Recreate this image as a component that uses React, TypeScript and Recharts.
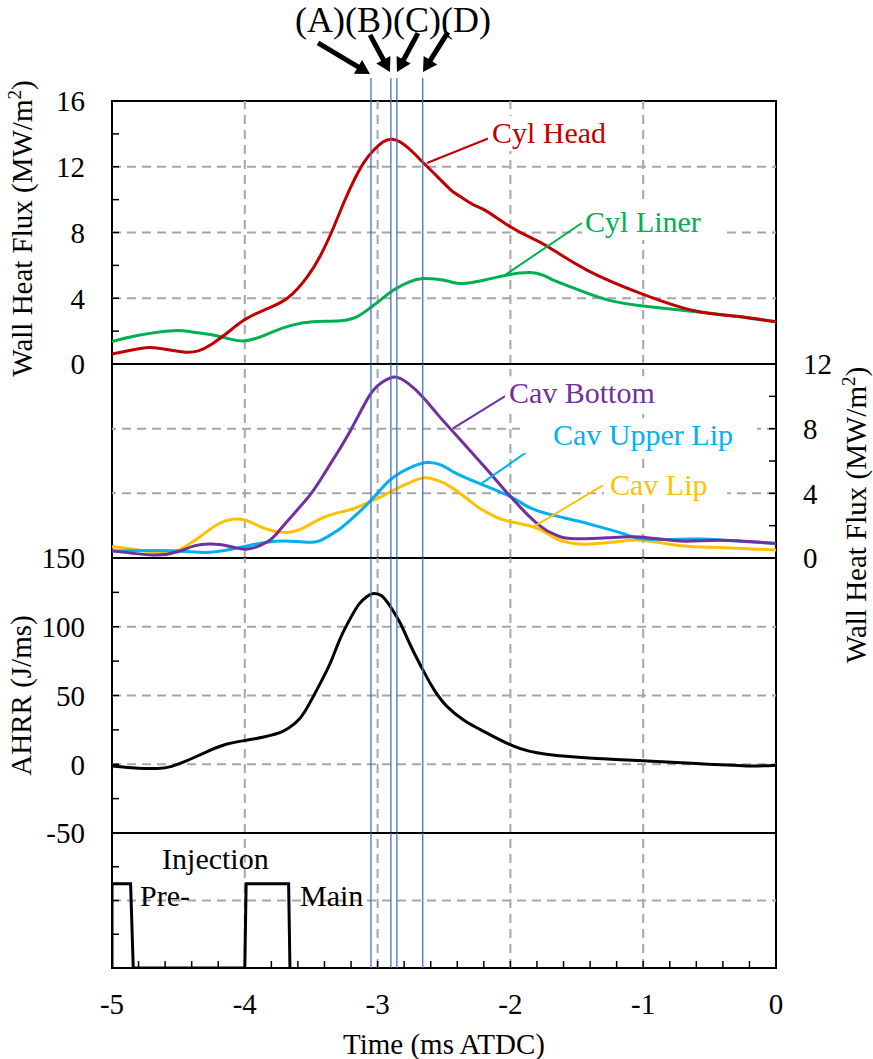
import React from 'react';
import { LineChart, Line, XAxis, YAxis, ReferenceLine, ReferenceArea, ReferenceDot, Label } from 'recharts';

const W = 873;
const H = 1059;
const FONT = 'Liberation Serif, Times New Roman, serif';

// ---------- data ----------
const cylHeadTime = [-5.0, -4.85, -4.72, -4.6, -4.45, -4.35, -4.25, -4.1, -4.0, -3.85, -3.68, -3.53, -3.43, -3.34, -3.25, -3.17, -3.1, -3.03, -2.96, -2.89, -2.81, -2.73, -2.65, -2.55, -2.45, -2.38, -2.28, -2.18, -2.0, -1.85, -1.72, -1.42, -1.02, -0.62, -0.3, 0];
const cylHeadFlux = [0.6, 0.85, 1.0, 0.9, 0.72, 0.8, 1.2, 2.1, 2.7, 3.3, 4.0, 5.3, 6.6, 8.15, 9.9, 11.3, 12.3, 13.0, 13.5, 13.67, 13.4, 12.85, 12.2, 11.4, 10.6, 10.2, 9.7, 9.3, 8.35, 7.7, 7.15, 5.7, 4.3, 3.25, 2.9, 2.57];

const cylLinerTime = [-5.0, -4.8, -4.54, -4.4, -4.26, -4.1, -4.01, -3.9, -3.79, -3.65, -3.49, -3.28, -3.15, -3.06, -2.97, -2.88, -2.76, -2.66, -2.55, -2.45, -2.36, -2.2, -2.03, -1.83, -1.7, -1.55, -1.27, -0.97, -0.62, -0.3, 0];
const cylLinerFlux = [1.36, 1.75, 2.03, 1.95, 1.8, 1.5, 1.4, 1.6, 1.96, 2.35, 2.57, 2.63, 2.9, 3.39, 3.95, 4.5, 5.0, 5.2, 5.15, 5.0, 4.9, 5.1, 5.4, 5.55, 5.2, 4.7, 3.9, 3.5, 3.2, 2.9, 2.57];

const cavBottomTime = [-5.0, -4.85, -4.66, -4.5, -4.38, -4.25, -4.1, -3.98, -3.83, -3.74, -3.64, -3.5, -3.38, -3.21, -3.06, -2.96, -2.87, -2.77, -2.66, -2.55, -2.43, -2.18, -2.0, -1.78, -1.65, -1.55, -1.27, -1.02, -0.72, -0.42, 0];
const cavBottomFlux = [0.43, 0.3, 0.18, 0.4, 0.75, 0.86, 0.7, 0.55, 1.0, 1.7, 2.65, 4.0, 5.5, 7.8, 10.06, 10.9, 11.2, 10.8, 9.96, 8.9, 7.8, 5.5, 3.8, 2.0, 1.4, 1.2, 1.25, 1.3, 1.05, 1.1, 0.9];

const cavUpperLipTime = [-5.0, -4.54, -4.26, -4.01, -3.73, -3.49, -3.38, -3.28, -3.17, -3.06, -2.97, -2.88, -2.75, -2.63, -2.52, -2.43, -2.23, -2.0, -1.85, -1.68, -1.5, -1.33, -1.15, -1.02, -0.8, -0.55, -0.3, 0];
const cavUpperLipFlux = [0.43, 0.45, 0.35, 0.7, 1.05, 0.97, 1.3, 1.83, 2.6, 3.48, 4.3, 5.0, 5.6, 5.9, 5.75, 5.33, 4.6, 3.8, 3.1, 2.65, 2.3, 1.93, 1.5, 1.2, 1.15, 1.17, 1.05, 0.9];

const cavLipTime = [-5.0, -4.8, -4.59, -4.45, -4.34, -4.2, -4.09, -4.0, -3.91, -3.8, -3.68, -3.55, -3.38, -3.2, -3.06, -2.97, -2.88, -2.75, -2.64, -2.55, -2.45, -2.3, -2.23, -2.1, -2.0, -1.83, -1.72, -1.63, -1.52, -1.42, -1.2, -1.02, -0.8, -0.62, -0.3, 0];
const cavLipFlux = [0.7, 0.5, 0.29, 0.7, 1.3, 2.1, 2.4, 2.35, 2.04, 1.7, 1.58, 1.9, 2.6, 3.0, 3.48, 3.8, 4.2, 4.7, 4.96, 4.8, 4.4, 3.5, 3.07, 2.5, 2.24, 1.93, 1.5, 1.1, 0.9, 0.85, 1.0, 1.1, 0.85, 0.7, 0.6, 0.5];

const ahrrTime = [-5.0, -4.85, -4.66, -4.55, -4.44, -4.3, -4.14, -3.98, -3.85, -3.71, -3.62, -3.55, -3.43, -3.35, -3.28, -3.2, -3.14, -3.08, -3.03, -2.97, -2.91, -2.83, -2.75, -2.66, -2.58, -2.48, -2.35, -2.23, -1.98, -1.73, -1.35, -0.97, -0.6, -0.22, 0];
const ahrrValue = [-1.2, -2.5, -3.1, -1.5, 2.4, 8.5, 14.5, 17.6, 20, 24.1, 30, 38, 59.2, 75, 91.8, 107, 116.5, 122, 124.2, 122.5, 115.5, 102.7, 86, 68.8, 55, 42.3, 32, 25.4, 13.3, 7.2, 4.1, 2.4, 0.5, -1.2, -0.7];

const injectionTime = [-5.0, -5.0, -4.86, -4.84, -4.0, -3.99, -3.67, -3.66];
const injectionSignal = [0, 2.5, 2.5, 0, 0, 2.5, 2.5, 0];

const markerTimes = [-3.05, -2.9, -2.855, -2.66];
const markerLetters = '(A)(B)(C)(D)';
const xGrid = [-4, -3, -2, -1];
const xTicks = [-5, -4.8, -4.6, -4.4, -4.2, -4, -3.8, -3.6, -3.4, -3.2, -3, -2.8, -2.6, -2.4, -2.2, -2, -1.8, -1.6, -1.4, -1.2, -1, -0.8, -0.6, -0.4, -0.2, 0];
const fluxTicksTop = [0, 2, 4, 6, 8, 10, 12, 14, 16];
const fluxTicksMid = [0, 2, 4, 6, 8, 10, 12];
const ahrrTicks = [-50, -25, 0, 25, 50, 75, 100, 125, 150];
const injTicks = [0, 1, 2, 3, 4];

const COLORS = {
  head: '#C00000',
  liner: '#00B050',
  bottom: '#7030A0',
  upper: '#00B0F0',
  lip: '#FFC000',
  grid: '#A6A6A6',
  marker: '#4472C4',
};

const pts = (ts: number[], vs: number[]) => ts.map((t, i) => ({ t, v: vs[i] }));

// ---------- helpers ----------
const txtStyle: React.CSSProperties = { fontFamily: FONT };

const makeTick = (show: (v: number) => boolean, dy: string) => (props: any) => {
  const { x, y, payload, textAnchor } = props;
  const v = payload.value;
  if (!show(v)) return <g />;
  const label = Math.abs(v) < 1e-9 ? '0' : String(Math.round(v * 100) / 100);
  return (
    <text x={x} y={y} dy={dy} textAnchor={textAnchor} fontFamily={FONT} style={txtStyle} fontSize={29} fill="#000">
      {label}
    </text>
  );
};

const isInt = (v: number) => Math.abs(v - Math.round(v)) < 1e-6;

const Arrow = (props: any) => {
  const { x1, y1, x2, y2 } = props;
  const dx = x2 - x1;
  const dy = y2 - y1;
  const len = Math.hypot(dx, dy) || 1;
  const ux = dx / len;
  const uy = dy / len;
  const hl = 14;
  const hw = 8;
  const bx = x2 - ux * hl;
  const by = y2 - uy * hl;
  return (
    <g>
      <line x1={x1} y1={y1} x2={bx + ux * 2} y2={by + uy * 2} stroke="#000" strokeWidth={5} />
      <polygon points={`${x2},${y2} ${bx - uy * hw},${by + ux * hw} ${bx + uy * hw},${by - ux * hw}`} fill="#000" />
    </g>
  );
};

const textShape = (text: string, color: string, size: number, anchor: string, box?: [number, number]) => (props: any) => {
  const { cx, cy } = props;
  return (
    <g>
      {box ? <rect x={cx + box[0]} y={cy - 27} width={box[1]} height={35} fill="#fff" /> : null}
      <text x={cx} y={cy} fill={color} fontSize={size} fontFamily={FONT} style={txtStyle} textAnchor={anchor}>
        {text}
      </text>
    </g>
  );
};

const fluxTitle = (
  <>
    Wall Heat Flux (MW/m<tspan dy={-11} fontSize={19}>2</tspan>
    <tspan dy={11}>)</tspan>
  </>
);

const titleContent = (content: React.ReactNode, baseX: number, dyCenter: number) => (props: any) => {
  const vb = props.viewBox || {};
  const cy = (vb.y ?? 0) + (vb.height ?? 0) / 2 + dyCenter;
  return (
    <text transform={`translate(${baseX},${cy}) rotate(-90)`} textAnchor="middle" fontFamily={FONT} style={txtStyle} fontSize={29} fill="#000">
      {content}
    </text>
  );
};

const gridLine = { stroke: COLORS.grid, strokeWidth: 2, strokeDasharray: '9 6' };
const tickLineStyle = { stroke: '#000', strokeWidth: 1.5 };
const CURVE = 'natural' as const;

const chartBox: React.CSSProperties = { position: 'absolute', left: 0, top: 0 };

// ---------- component ----------
export default function App() {
  return (
    <div style={{ position: 'absolute', left: 0, top: 0, width: W, height: H, background: '#fff' }}>
      {/* Panel 1: cylinder head / liner */}
      <div style={chartBox}>
        <LineChart width={W} height={H} margin={{ top: 101, bottom: H - 364, left: 52, right: 97 }}>
          <XAxis dataKey="t" type="number" domain={[-5, 0]} allowDataOverflow hide />
          <YAxis
            type="number"
            domain={[0, 16]}
            ticks={fluxTicksTop}
            interval={0}
            allowDataOverflow
            width={60}
            axisLine={false}
            tickSize={-7}
            tickMargin={34}
            tickLine={tickLineStyle}
            tick={makeTick((v) => v % 4 === 0, '0.355em')}
          >
            <Label content={titleContent(fluxTitle, 32, -4)} />
          </YAxis>
          {xGrid.map((x) => (
            <ReferenceLine key={'gx' + x} x={x} {...gridLine} />
          ))}
          {[4, 8, 12].map((y) => (
            <ReferenceLine key={'gy' + y} y={y} {...gridLine} />
          ))}
          <ReferenceDot x={-2.139} y={13.44} r={0} ifOverflow="visible" shape={textShape('Cyl Head', COLORS.head, 30, 'start', [-4, 128])} />
          <ReferenceDot x={-1.438} y={8.03} r={0} ifOverflow="visible" shape={textShape('Cyl Liner', COLORS.liner, 30, 'start', [-3, 143])} />
          <Line data={pts(cylLinerTime, cylLinerFlux)} dataKey="v" type={CURVE} stroke={COLORS.liner} strokeWidth={3} dot={false} isAnimationActive={false} />
          <Line data={pts(cylHeadTime, cylHeadFlux)} dataKey="v" type={CURVE} stroke={COLORS.head} strokeWidth={3} dot={false} isAnimationActive={false} />
          <ReferenceLine segment={[{ x: -2.628, y: 12.23 }, { x: -2.139, y: 13.81 }]} stroke={COLORS.head} strokeWidth={2} ifOverflow="visible" />
          <ReferenceLine segment={[{ x: -2.041, y: 5.41 }, { x: -1.461, y: 8.58 }]} stroke={COLORS.liner} strokeWidth={2} ifOverflow="visible" />
          {markerTimes.map((x) => (
            <ReferenceLine key={'m' + x} segment={[{ x, y: 0 }, { x, y: 17.4 }]} stroke={COLORS.marker} strokeWidth={1.3} ifOverflow="visible" />
          ))}
          <ReferenceLine segment={[{ x: -3.449, y: 19.53 }, { x: -3.057, y: 17.64 }]} ifOverflow="visible" shape={Arrow} />
          <ReferenceLine segment={[{ x: -3.057, y: 20.02 }, { x: -2.907, y: 17.76 }]} ifOverflow="visible" shape={Arrow} />
          <ReferenceLine segment={[{ x: -2.696, y: 20.13 }, { x: -2.854, y: 17.76 }]} ifOverflow="visible" shape={Arrow} />
          <ReferenceLine segment={[{ x: -2.47, y: 20.19 }, { x: -2.658, y: 17.76 }]} ifOverflow="visible" shape={Arrow} />
          <ReferenceDot x={-2.884} y={20.22} r={0} ifOverflow="visible" shape={textShape(markerLetters, '#000', 36, 'middle')} />
          <ReferenceArea x1={-5} x2={0} y1={0} y2={16} fill="none" fillOpacity={0} stroke="#000" strokeWidth={2} ifOverflow="visible" />
        </LineChart>
      </div>

      {/* Panel 2: cavity */}
      <div style={chartBox}>
        <LineChart width={W} height={H} margin={{ top: 364, bottom: H - 558, left: 112, right: 37 }}>
          <XAxis dataKey="t" type="number" domain={[-5, 0]} allowDataOverflow hide />
          <YAxis
            yAxisId="r"
            orientation="right"
            type="number"
            domain={[0, 12]}
            ticks={fluxTicksMid}
            interval={0}
            allowDataOverflow
            width={60}
            axisLine={false}
            tickSize={-7}
            tickMargin={34}
            tickLine={tickLineStyle}
            tick={makeTick((v) => v % 4 === 0, '0.355em')}
          >
            <Label content={titleContent(fluxTitle, 866, 54)} />
          </YAxis>
          {xGrid.map((x) => (
            <ReferenceLine key={'gx' + x} yAxisId="r" x={x} {...gridLine} />
          ))}
          {[4, 8].map((y) => (
            <ReferenceLine key={'gy' + y} yAxisId="r" y={y} {...gridLine} />
          ))}
          <ReferenceDot yAxisId="r" x={-2.011} y={9.57} r={0} ifOverflow="visible" shape={textShape('Cav Bottom', COLORS.bottom, 30, 'start', [-4, 150])} />
          <ReferenceDot yAxisId="r" x={-1.679} y={6.98} r={0} ifOverflow="visible" shape={textShape('Cav Upper Lip', COLORS.upper, 30, 'start', [-33, 237])} />
          <ReferenceDot yAxisId="r" x={-1.25} y={3.89} r={0} ifOverflow="visible" shape={textShape('Cav Lip', COLORS.lip, 30, 'start', [-6, 123])} />
          <Line yAxisId="r" data={pts(cavLipTime, cavLipFlux)} dataKey="v" type={CURVE} stroke={COLORS.lip} strokeWidth={3} dot={false} isAnimationActive={false} />
          <Line yAxisId="r" data={pts(cavUpperLipTime, cavUpperLipFlux)} dataKey="v" type={CURVE} stroke={COLORS.upper} strokeWidth={3} dot={false} isAnimationActive={false} />
          <Line yAxisId="r" data={pts(cavBottomTime, cavBottomFlux)} dataKey="v" type={CURVE} stroke={COLORS.bottom} strokeWidth={3} dot={false} isAnimationActive={false} />
          <ReferenceLine yAxisId="r" segment={[{ x: -2.432, y: 8.02 }, { x: -2.018, y: 10.12 }]} stroke={COLORS.bottom} strokeWidth={2} ifOverflow="visible" />
          <ReferenceLine yAxisId="r" segment={[{ x: -2.214, y: 4.63 }, { x: -1.717, y: 7.47 }]} stroke={COLORS.upper} strokeWidth={2} ifOverflow="visible" />
          <ReferenceLine yAxisId="r" segment={[{ x: -1.83, y: 1.91 }, { x: -1.303, y: 4.5 }]} stroke={COLORS.lip} strokeWidth={2} ifOverflow="visible" />
          {markerTimes.map((x) => (
            <ReferenceLine key={'m' + x} yAxisId="r" x={x} stroke={COLORS.marker} strokeWidth={1.3} />
          ))}
          <ReferenceArea yAxisId="r" x1={-5} x2={0} y1={0} y2={12} fill="none" fillOpacity={0} stroke="#000" strokeWidth={2} ifOverflow="visible" />
        </LineChart>
      </div>

      {/* Panel 3: AHRR */}
      <div style={chartBox}>
        <LineChart width={W} height={H} margin={{ top: 558, bottom: H - 833, left: 52, right: 97 }}>
          <XAxis dataKey="t" type="number" domain={[-5, 0]} allowDataOverflow hide />
          <YAxis
            type="number"
            domain={[-50, 150]}
            ticks={ahrrTicks}
            interval={0}
            allowDataOverflow
            width={60}
            axisLine={false}
            tickSize={-7}
            tickMargin={34}
            tickLine={tickLineStyle}
            tick={makeTick((v) => v % 50 === 0, '0.355em')}
          >
            <Label content={titleContent('AHRR (J/ms)', 31, 0)} />
          </YAxis>
          {xGrid.map((x) => (
            <ReferenceLine key={'gx' + x} x={x} {...gridLine} />
          ))}
          {[0, 50, 100].map((y) => (
            <ReferenceLine key={'gy' + y} y={y} {...gridLine} />
          ))}
          <Line data={pts(ahrrTime, ahrrValue)} dataKey="v" type={CURVE} stroke="#000" strokeWidth={3} dot={false} isAnimationActive={false} />
          {markerTimes.map((x) => (
            <ReferenceLine key={'m' + x} x={x} stroke={COLORS.marker} strokeWidth={1.3} />
          ))}
          <ReferenceArea x1={-5} x2={0} y1={-50} y2={150} fill="none" fillOpacity={0} stroke="#000" strokeWidth={2} ifOverflow="visible" />
        </LineChart>
      </div>

      {/* Panel 4: injection */}
      <div style={chartBox}>
        <LineChart width={W} height={H} margin={{ top: 833, bottom: 31, left: 52, right: 97 }}>
          <XAxis
            dataKey="t"
            type="number"
            domain={[-5, 0]}
            ticks={xTicks}
            interval={0}
            allowDataOverflow
            height={60}
            axisLine={false}
            tickSize={-7}
            tickMargin={32}
            tickLine={tickLineStyle}
            tick={makeTick(isInt, '0.71em')}
          >
            <Label
              content={(props: any) => {
                const vb = props.viewBox || {};
                const cx = (vb.x ?? 0) + (vb.width ?? 0) / 2;
                return (
                  <text x={cx} y={1054} textAnchor="middle" fontFamily={FONT} style={txtStyle} fontSize={29} fill="#000">
                    Time (ms ATDC)
                  </text>
                );
              }}
            />
          </XAxis>
          <YAxis
            type="number"
            domain={[0, 4]}
            ticks={injTicks}
            interval={0}
            allowDataOverflow
            width={60}
            axisLine={false}
            tickSize={-7}
            tickMargin={34}
            tickLine={tickLineStyle}
            tick={makeTick(() => false, '0.355em')}
          />
          {xGrid.map((x) => (
            <ReferenceLine key={'gx' + x} x={x} {...gridLine} />
          ))}
          <ReferenceLine y={2} {...gridLine} />
          <Line data={pts(injectionTime, injectionSignal)} dataKey="v" type="linear" stroke="#000" strokeWidth={3} dot={false} isAnimationActive={false} />
          <ReferenceDot x={-4.623} y={2.933} r={0} ifOverflow="visible" shape={textShape('Injection', '#000', 30, 'start')} />
          <ReferenceDot x={-4.789} y={1.837} r={0} ifOverflow="visible" shape={textShape('Pre-', '#000', 30, 'start')} />
          <ReferenceDot x={-3.584} y={1.837} r={0} ifOverflow="visible" shape={textShape('Main', '#000', 30, 'start')} />
          {markerTimes.map((x) => (
            <ReferenceLine key={'m' + x} x={x} stroke={COLORS.marker} strokeWidth={1.3} />
          ))}
          <ReferenceArea x1={-5} x2={0} y1={0} y2={4} fill="none" fillOpacity={0} stroke="#000" strokeWidth={2} ifOverflow="visible" />
        </LineChart>
      </div>
    </div>
  );
}
